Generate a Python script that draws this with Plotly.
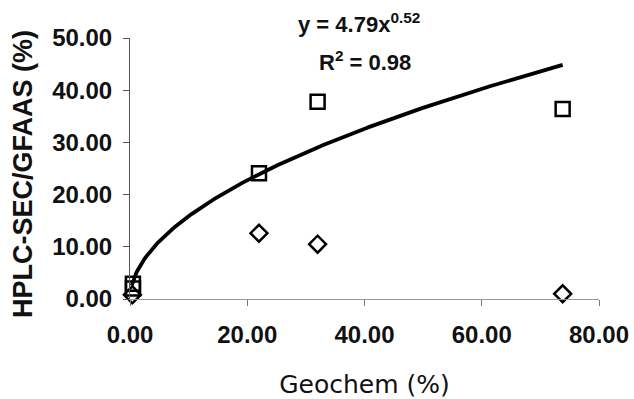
import numpy as np
import plotly.graph_objects as go

# Data
sq_x = [0.5, 0.5, 22.0, 32.0, 73.8]
sq_y = [2.9, 2.0, 24.1, 37.8, 36.4]
di_x = [0.4, 22.0, 32.0, 73.8]
di_y = [0.8, 12.6, 10.5, 1.0]

# Power trendline shown on chart: y = 4.79 x^0.52
fit_a = 4.79
fit_b = 0.52
fit_xmin, fit_xmax = 0.3, 73.8

x_ticks = [0, 20, 40, 60, 80]
y_ticks = [0, 10, 20, 30, 40, 50]

fx = np.linspace(fit_xmin, fit_xmax, 300)
fy = fit_a * fx ** fit_b

fig = go.Figure()
fig.add_trace(go.Scatter(x=fx, y=fy, mode="lines",
                         line=dict(color="black", width=3.8), showlegend=False,
                         hoverinfo="skip"))
fig.add_trace(go.Scatter(x=sq_x, y=sq_y, mode="markers",
                         marker=dict(symbol="square-open", size=14,
                                     color="black", line=dict(width=2.5, color="black")),
                         showlegend=False, cliponaxis=False))
fig.add_trace(go.Scatter(x=di_x, y=di_y, mode="markers",
                         marker=dict(symbol="diamond-open", size=13,
                                     color="black", line=dict(width=2.5, color="black")),
                         showlegend=False, cliponaxis=False))

tick_font = dict(family="Liberation Sans", size=24, color="#111", weight="bold")
fig.update_xaxes(range=[0, 80], tickvals=x_ticks,
                 ticktext=[f"{v:.2f}" for v in x_ticks],
                 showgrid=False, zeroline=False, showline=True,
                 linecolor="#999", linewidth=1, ticks="outside",
                 ticklen=6, tickcolor="#777", tickfont=tick_font,
                 ticklabelstandoff=8, automargin=False,
                 title=dict(text="Geochem (%)",
                            font=dict(family="DejaVu Sans", size=25, color="#111"),
                            standoff=34))
fig.update_yaxes(range=[0, 50], tickvals=y_ticks,
                 ticktext=[f"{v:.2f}" for v in y_ticks],
                 showgrid=False, zeroline=False, showline=True,
                 linecolor="#555", linewidth=1, ticks="outside",
                 ticklen=6, tickcolor="#555", tickfont=tick_font,
                 ticklabelstandoff=6, automargin=False)

fig.add_annotation(x=-0.228, y=0.479, xref="paper", yref="paper", showarrow=False,
                   xanchor="center", yanchor="middle",
                   text="HPLC-SEC/GFAAS (%)", textangle=-90,
                   font=dict(family="Liberation Sans", size=27, color="#111", weight="bold"))
fig.add_annotation(x=0.488, y=1.118, xref="paper", yref="paper", showarrow=False,
                   text="y = 4.79x<sup>0.52</sup>",
                   font=dict(family="Liberation Sans", size=22, color="#111", weight="bold"))
fig.add_annotation(x=0.5, y=0.972, xref="paper", yref="paper", showarrow=False,
                   text="R<sup>2</sup> = 0.98",
                   font=dict(family="Liberation Sans", size=22, color="#111", weight="bold"))

fig.update_layout(width=634, height=399,
                  margin=dict(l=130, r=35, t=38, b=100),
                  plot_bgcolor="white", paper_bgcolor="white")

fig.write_html("out.html")
